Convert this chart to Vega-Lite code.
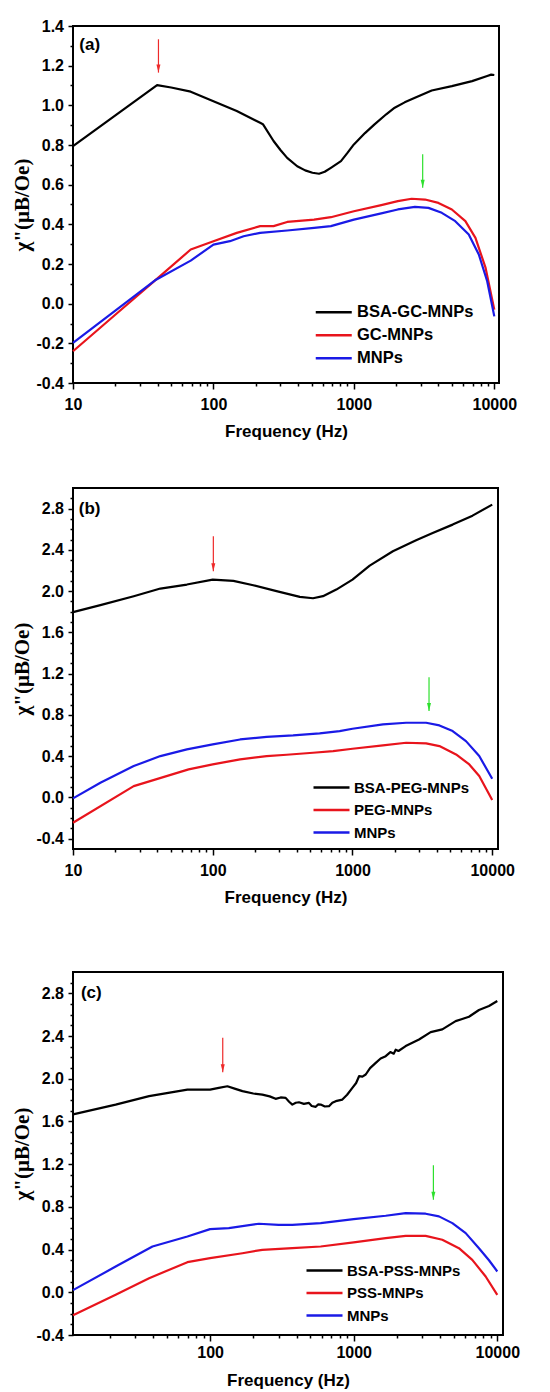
{
  "$schema": "https://vega.github.io/schema/vega-lite/v6.json",
  "background": "white",
  "padding": {"left": 10, "top": 17, "right": 5, "bottom": 2},
  "config": {
    "font": "Liberation Sans",
    "view": {"stroke": "#000000", "strokeWidth": 2},
    "axis": {"domain": false, "grid": false, "tickColor": "#000000", "tickWidth": 1.5, "labelFont": "Liberation Sans", "labelFontSize": 16, "labelFontWeight": "bold", "labelColor": "#000000", "titleFont": "Liberation Sans", "titleFontWeight": "bold", "titleColor": "#000000"},
    "legend": {"labelFont": "Liberation Sans", "labelFontWeight": "bold", "labelColor": "#000000"}
  },
  "datasets": {
    "a": [
      {"s":"BSA-GC-MNPs","f":10,"v":0.794},{"s":"BSA-GC-MNPs","f":39.7,"v":1.102},{"s":"BSA-GC-MNPs","f":50,"v":1.09},{"s":"BSA-GC-MNPs","f":68.9,"v":1.069},{"s":"BSA-GC-MNPs","f":100,"v":1.021},{"s":"BSA-GC-MNPs","f":146.6,"v":0.971},{"s":"BSA-GC-MNPs","f":215,"v":0.912},{"s":"BSA-GC-MNPs","f":225,"v":0.905},{"s":"BSA-GC-MNPs","f":268,"v":0.82},{"s":"BSA-GC-MNPs","f":300,"v":0.775},{"s":"BSA-GC-MNPs","f":335,"v":0.735},{"s":"BSA-GC-MNPs","f":395,"v":0.693},{"s":"BSA-GC-MNPs","f":450,"v":0.672},{"s":"BSA-GC-MNPs","f":507,"v":0.66},{"s":"BSA-GC-MNPs","f":565,"v":0.655},{"s":"BSA-GC-MNPs","f":620,"v":0.665},{"s":"BSA-GC-MNPs","f":686,"v":0.685},{"s":"BSA-GC-MNPs","f":809,"v":0.719},{"s":"BSA-GC-MNPs","f":900,"v":0.76},{"s":"BSA-GC-MNPs","f":1000,"v":0.803},{"s":"BSA-GC-MNPs","f":1200,"v":0.86},{"s":"BSA-GC-MNPs","f":1403,"v":0.904},{"s":"BSA-GC-MNPs","f":1700,"v":0.955},{"s":"BSA-GC-MNPs","f":1953,"v":0.988},{"s":"BSA-GC-MNPs","f":2300,"v":1.015},{"s":"BSA-GC-MNPs","f":2722,"v":1.038},{"s":"BSA-GC-MNPs","f":3583,"v":1.075},{"s":"BSA-GC-MNPs","f":4986,"v":1.097},{"s":"BSA-GC-MNPs","f":6946,"v":1.122},{"s":"BSA-GC-MNPs","f":8900,"v":1.148},{"s":"BSA-GC-MNPs","f":9500,"v":1.155},{"s":"BSA-GC-MNPs","f":10000,"v":1.153},
      {"s":"GC-MNPs","f":10,"v":-0.24},{"s":"GC-MNPs","f":20,"v":-0.056},{"s":"GC-MNPs","f":39,"v":0.121},{"s":"GC-MNPs","f":68.9,"v":0.273},{"s":"GC-MNPs","f":100,"v":0.315},{"s":"GC-MNPs","f":146.6,"v":0.357},{"s":"GC-MNPs","f":215,"v":0.391},{"s":"GC-MNPs","f":268,"v":0.391},{"s":"GC-MNPs","f":335,"v":0.412},{"s":"GC-MNPs","f":521,"v":0.424},{"s":"GC-MNPs","f":686,"v":0.436},{"s":"GC-MNPs","f":1000,"v":0.466},{"s":"GC-MNPs","f":1567,"v":0.497},{"s":"GC-MNPs","f":2055,"v":0.517},{"s":"GC-MNPs","f":2578,"v":0.529},{"s":"GC-MNPs","f":3213,"v":0.525},{"s":"GC-MNPs","f":4000,"v":0.508},{"s":"GC-MNPs","f":4986,"v":0.475},{"s":"GC-MNPs","f":6223,"v":0.416},{"s":"GC-MNPs","f":7341,"v":0.332},{"s":"GC-MNPs","f":8670,"v":0.18},{"s":"GC-MNPs","f":10000,"v":-0.03},
      {"s":"MNPs","f":10,"v":-0.198},{"s":"MNPs","f":39,"v":0.121},{"s":"MNPs","f":68.9,"v":0.217},{"s":"MNPs","f":100,"v":0.298},{"s":"MNPs","f":131,"v":0.315},{"s":"MNPs","f":164,"v":0.34},{"s":"MNPs","f":215,"v":0.357},{"s":"MNPs","f":335,"v":0.369},{"s":"MNPs","f":521,"v":0.382},{"s":"MNPs","f":686,"v":0.391},{"s":"MNPs","f":1000,"v":0.424},{"s":"MNPs","f":1567,"v":0.455},{"s":"MNPs","f":2055,"v":0.475},{"s":"MNPs","f":2722,"v":0.488},{"s":"MNPs","f":3396,"v":0.483},{"s":"MNPs","f":4227,"v":0.458},{"s":"MNPs","f":5272,"v":0.416},{"s":"MNPs","f":6578,"v":0.349},{"s":"MNPs","f":7757,"v":0.248},{"s":"MNPs","f":8900,"v":0.113},{"s":"MNPs","f":10000,"v":-0.064}
    ],
    "b": [
      {"s":"BSA-PEG-MNPs","f":10,"v":1.796},{"s":"BSA-PEG-MNPs","f":15.7,"v":1.864},{"s":"BSA-PEG-MNPs","f":27.2,"v":1.951},{"s":"BSA-PEG-MNPs","f":42.2,"v":2.025},{"s":"BSA-PEG-MNPs","f":65.3,"v":2.064},{"s":"BSA-PEG-MNPs","f":100,"v":2.112},{"s":"BSA-PEG-MNPs","f":140.6,"v":2.099},{"s":"BSA-PEG-MNPs","f":195,"v":2.057},{"s":"BSA-PEG-MNPs","f":286,"v":2.0},{"s":"BSA-PEG-MNPs","f":420,"v":1.944},{"s":"BSA-PEG-MNPs","f":522,"v":1.931},{"s":"BSA-PEG-MNPs","f":615,"v":1.951},{"s":"BSA-PEG-MNPs","f":766,"v":2.015},{"s":"BSA-PEG-MNPs","f":1000,"v":2.112},{"s":"BSA-PEG-MNPs","f":1328,"v":2.248},{"s":"BSA-PEG-MNPs","f":1946,"v":2.387},{"s":"BSA-PEG-MNPs","f":2853,"v":2.493},{"s":"BSA-PEG-MNPs","f":3750,"v":2.564},{"s":"BSA-PEG-MNPs","f":5210,"v":2.645},{"s":"BSA-PEG-MNPs","f":7230,"v":2.732},{"s":"BSA-PEG-MNPs","f":10000,"v":2.839},
      {"s":"PEG-MNPs","f":10,"v":-0.245},{"s":"PEG-MNPs","f":27.2,"v":0.11},{"s":"PEG-MNPs","f":67.2,"v":0.272},{"s":"PEG-MNPs","f":100,"v":0.32},{"s":"PEG-MNPs","f":157,"v":0.369},{"s":"PEG-MNPs","f":243,"v":0.401},{"s":"PEG-MNPs","f":338,"v":0.414},{"s":"PEG-MNPs","f":522,"v":0.433},{"s":"PEG-MNPs","f":727,"v":0.449},{"s":"PEG-MNPs","f":1000,"v":0.472},{"s":"PEG-MNPs","f":1652,"v":0.504},{"s":"PEG-MNPs","f":2421,"v":0.53},{"s":"PEG-MNPs","f":3365,"v":0.524},{"s":"PEG-MNPs","f":4190,"v":0.498},{"s":"PEG-MNPs","f":5510,"v":0.417},{"s":"PEG-MNPs","f":6856,"v":0.32},{"s":"PEG-MNPs","f":8075,"v":0.207},{"s":"PEG-MNPs","f":10000,"v":-0.025},
      {"s":"MNPs","f":10,"v":-0.009},{"s":"MNPs","f":15.7,"v":0.143},{"s":"MNPs","f":27.2,"v":0.304},{"s":"MNPs","f":42.2,"v":0.401},{"s":"MNPs","f":65.3,"v":0.466},{"s":"MNPs","f":100,"v":0.514},{"s":"MNPs","f":157,"v":0.562},{"s":"MNPs","f":243,"v":0.588},{"s":"MNPs","f":376,"v":0.601},{"s":"MNPs","f":582,"v":0.621},{"s":"MNPs","f":809,"v":0.643},{"s":"MNPs","f":1000,"v":0.666},{"s":"MNPs","f":1652,"v":0.708},{"s":"MNPs","f":2421,"v":0.724},{"s":"MNPs","f":3365,"v":0.724},{"s":"MNPs","f":4190,"v":0.698},{"s":"MNPs","f":5210,"v":0.643},{"s":"MNPs","f":6490,"v":0.546},{"s":"MNPs","f":8075,"v":0.401},{"s":"MNPs","f":10000,"v":0.181}
    ],
    "c": [
      {"s":"BSA-PSS-MNPs","f":11.1,"v":1.667},{"s":"BSA-PSS-MNPs","f":22,"v":1.758},{"s":"BSA-PSS-MNPs","f":37.6,"v":1.837},{"s":"BSA-PSS-MNPs","f":69.5,"v":1.899},{"s":"BSA-PSS-MNPs","f":100,"v":1.899},{"s":"BSA-PSS-MNPs","f":115,"v":1.915},{"s":"BSA-PSS-MNPs","f":132,"v":1.93},{"s":"BSA-PSS-MNPs","f":150,"v":1.905},{"s":"BSA-PSS-MNPs","f":168,"v":1.884},{"s":"BSA-PSS-MNPs","f":200,"v":1.862},{"s":"BSA-PSS-MNPs","f":231,"v":1.852},{"s":"BSA-PSS-MNPs","f":260,"v":1.835},{"s":"BSA-PSS-MNPs","f":286,"v":1.812},{"s":"BSA-PSS-MNPs","f":310,"v":1.825},{"s":"BSA-PSS-MNPs","f":336,"v":1.821},{"s":"BSA-PSS-MNPs","f":355,"v":1.785},{"s":"BSA-PSS-MNPs","f":374,"v":1.758},{"s":"BSA-PSS-MNPs","f":395,"v":1.775},{"s":"BSA-PSS-MNPs","f":416,"v":1.78},{"s":"BSA-PSS-MNPs","f":450,"v":1.765},{"s":"BSA-PSS-MNPs","f":488,"v":1.774},{"s":"BSA-PSS-MNPs","f":510,"v":1.745},{"s":"BSA-PSS-MNPs","f":544,"v":1.737},{"s":"BSA-PSS-MNPs","f":565,"v":1.76},{"s":"BSA-PSS-MNPs","f":589,"v":1.758},{"s":"BSA-PSS-MNPs","f":630,"v":1.74},{"s":"BSA-PSS-MNPs","f":673,"v":1.743},{"s":"BSA-PSS-MNPs","f":710,"v":1.775},{"s":"BSA-PSS-MNPs","f":750,"v":1.79},{"s":"BSA-PSS-MNPs","f":834,"v":1.805},{"s":"BSA-PSS-MNPs","f":900,"v":1.85},{"s":"BSA-PSS-MNPs","f":979,"v":1.915},{"s":"BSA-PSS-MNPs","f":1040,"v":1.96},{"s":"BSA-PSS-MNPs","f":1090,"v":2.024},{"s":"BSA-PSS-MNPs","f":1150,"v":2.02},{"s":"BSA-PSS-MNPs","f":1213,"v":2.04},{"s":"BSA-PSS-MNPs","f":1300,"v":2.1},{"s":"BSA-PSS-MNPs","f":1424,"v":2.149},{"s":"BSA-PSS-MNPs","f":1540,"v":2.19},{"s":"BSA-PSS-MNPs","f":1671,"v":2.212},{"s":"BSA-PSS-MNPs","f":1800,"v":2.25},{"s":"BSA-PSS-MNPs","f":1900,"v":2.235},{"s":"BSA-PSS-MNPs","f":1961,"v":2.272},{"s":"BSA-PSS-MNPs","f":2050,"v":2.26},{"s":"BSA-PSS-MNPs","f":2302,"v":2.306},{"s":"BSA-PSS-MNPs","f":2851,"v":2.368},{"s":"BSA-PSS-MNPs","f":3437,"v":2.437},{"s":"BSA-PSS-MNPs","f":4141,"v":2.462},{"s":"BSA-PSS-MNPs","f":5129,"v":2.54},{"s":"BSA-PSS-MNPs","f":5700,"v":2.56},{"s":"BSA-PSS-MNPs","f":6351,"v":2.581},{"s":"BSA-PSS-MNPs","f":7454,"v":2.644},{"s":"BSA-PSS-MNPs","f":8754,"v":2.681},{"s":"BSA-PSS-MNPs","f":10000,"v":2.728},
      {"s":"PSS-MNPs","f":11.1,"v":-0.215},{"s":"PSS-MNPs","f":22,"v":-0.024},{"s":"PSS-MNPs","f":37.6,"v":0.132},{"s":"PSS-MNPs","f":69.5,"v":0.282},{"s":"PSS-MNPs","f":100,"v":0.32},{"s":"PSS-MNPs","f":168,"v":0.366},{"s":"PSS-MNPs","f":231,"v":0.398},{"s":"PSS-MNPs","f":374,"v":0.413},{"s":"PSS-MNPs","f":589,"v":0.429},{"s":"PSS-MNPs","f":1000,"v":0.467},{"s":"PSS-MNPs","f":1671,"v":0.507},{"s":"PSS-MNPs","f":2302,"v":0.529},{"s":"PSS-MNPs","f":3170,"v":0.529},{"s":"PSS-MNPs","f":4141,"v":0.492},{"s":"PSS-MNPs","f":5407,"v":0.413},{"s":"PSS-MNPs","f":6697,"v":0.304},{"s":"PSS-MNPs","f":8300,"v":0.148},{"s":"PSS-MNPs","f":10000,"v":-0.024},
      {"s":"MNPs","f":11.1,"v":0.02},{"s":"MNPs","f":22,"v":0.241},{"s":"MNPs","f":39.7,"v":0.429},{"s":"MNPs","f":69.5,"v":0.523},{"s":"MNPs","f":100,"v":0.592},{"s":"MNPs","f":135,"v":0.601},{"s":"MNPs","f":219,"v":0.642},{"s":"MNPs","f":300,"v":0.632},{"s":"MNPs","f":374,"v":0.632},{"s":"MNPs","f":589,"v":0.648},{"s":"MNPs","f":1000,"v":0.686},{"s":"MNPs","f":1671,"v":0.717},{"s":"MNPs","f":2302,"v":0.742},{"s":"MNPs","f":3170,"v":0.736},{"s":"MNPs","f":3926,"v":0.711},{"s":"MNPs","f":4865,"v":0.648},{"s":"MNPs","f":6026,"v":0.554},{"s":"MNPs","f":7454,"v":0.413},{"s":"MNPs","f":8754,"v":0.3},{"s":"MNPs","f":10000,"v":0.195}
    ],
    "arrows_a": [{"peak":"BSA peak","f":40.6,"top":1.333,"tip":1.165},{"peak":"MNP peak","f":3090,"top":0.753,"tip":0.585}],
    "arrows_b": [{"peak":"BSA peak","f":101,"top":2.532,"tip":2.193},{"peak":"MNP peak","f":3530,"top":1.166,"tip":0.837}],
    "arrows_c": [{"peak":"BSA peak","f":122.5,"top":2.384,"tip":2.062},{"peak":"MNP peak","f":3590,"top":1.189,"tip":0.867}]
  },
  "resolve": {"scale": {"x": "independent", "y": "independent", "color": "independent", "stroke": "independent", "fill": "independent"}, "legend": {"color": "independent"}},
  "spacing": 65,
  "vconcat": [
    {
      "spacing": 47,
      "resolve": {"scale": {"x": "independent", "y": "independent", "color": "independent", "stroke": "independent", "fill": "independent"}, "legend": {"color": "independent"}},
      "vconcat": [
        {
          "width": 426, "height": 357,
          "resolve": {"axis": {"x": "independent", "y": "independent"}},
          "layer": [
            {
              "data": {"name": "a"},
              "mark": {"type": "line", "strokeWidth": 2.2, "strokeJoin": "round"},
              "encoding": {
                "x": {"field": "f", "type": "quantitative", "scale": {"type": "log", "domain": [10, 10800], "nice": false},
                  "axis": {"orient": "bottom", "values": [10, 100, 1000, 10000], "format": "d", "tickSize": 6, "labelPadding": 7, "labelFlush": false, "labelOverlap": false, "title": "Frequency (Hz)", "titleFontSize": 17, "titlePadding": 11}},
                "y": {"field": "v", "type": "quantitative", "scale": {"domain": [-0.4, 1.4], "nice": false, "zero": false},
                  "axis": {"orient": "left", "values": [-0.4, -0.2, 0, 0.2, 0.4, 0.6, 0.8, 1.0, 1.2, 1.4], "format": ".1f", "labelExpr": "replace(datum.label, '\u2212', '-')", "tickSize": 5, "labelPadding": 4.5, "title": "χ\"(μB/Oe)", "titleFont": "Liberation Serif", "titleFontSize": 21, "titlePadding": 3}},
                "color": {"field": "s", "type": "nominal", "scale": {"domain": ["BSA-GC-MNPs", "GC-MNPs", "MNPs"], "range": ["#000000", "#e8141c", "#1a1ae6"]},
                  "legend": {"orient": "none", "legendX": 252.5, "legendY": 278, "direction": "vertical", "title": null, "symbolType": "M-4,0L4,0", "symbolSize": 81, "symbolStrokeWidth": 2.5, "labelFontSize": 16.5, "labelOffset": 15, "rowPadding": 6, "padding": 0}}
              }
            },
            {
              "data": {"name": "arrows_a"},
              "mark": {"type": "rule", "strokeWidth": 1.2},
              "encoding": {
                "x": {"field": "f", "type": "quantitative", "scale": {"type": "log", "domain": [10, 10800], "nice": false},
                  "axis": {"orient": "bottom", "values": [20, 30, 40, 50, 60, 70, 80, 90, 200, 300, 400, 500, 600, 700, 800, 900, 2000, 3000, 4000, 5000, 6000, 7000, 8000, 9000], "labels": false, "title": null, "tickSize": 3}},
                "y": {"field": "top", "type": "quantitative", "scale": {"domain": [-0.4, 1.4], "nice": false, "zero": false},
                  "axis": {"orient": "left", "values": [-0.3, -0.1, 0.1, 0.3, 0.5, 0.7, 0.9, 1.1, 1.3], "labels": false, "title": null, "tickSize": 3}},
                "y2": {"field": "tip"},
                "stroke": {"field": "peak", "type": "nominal", "scale": {"domain": ["BSA peak", "MNP peak"], "range": ["#ee2a2a", "#2ee02e"]}, "legend": null}
              }
            },
            {
              "data": {"name": "arrows_a"},
              "mark": {"type": "point", "filled": true, "opacity": 1, "shape": "M-1,-4L1,-4L0,0Z", "size": 16, "strokeWidth": 0},
              "encoding": {
                "x": {"field": "f", "type": "quantitative", "axis": null},
                "y": {"field": "tip", "type": "quantitative", "axis": null},
                "fill": {"field": "peak", "type": "nominal", "scale": {"domain": ["BSA peak", "MNP peak"], "range": ["#ee2a2a", "#2ee02e"]}, "legend": null}
              }
            },
            {
              "data": {"values": [{"f": 11.1, "v": 1.305, "t": "(a)"}]},
              "mark": {"type": "text", "align": "left", "baseline": "middle", "fontSize": 17, "fontWeight": "bold", "font": "Liberation Sans", "color": "#000000"},
              "encoding": {
                "x": {"field": "f", "type": "quantitative", "axis": null},
                "y": {"field": "v", "type": "quantitative", "axis": null},
                "text": {"field": "t"}
              }
            }
          ]
        },
        {
          "width": 425, "height": 361,
          "resolve": {"axis": {"x": "independent", "y": "independent"}},
          "layer": [
            {
              "data": {"name": "b"},
              "mark": {"type": "line", "strokeWidth": 2.2, "strokeJoin": "round"},
              "encoding": {
                "x": {"field": "f", "type": "quantitative", "scale": {"type": "log", "domain": [10, 11000], "nice": false},
                  "axis": {"orient": "bottom", "values": [10, 100, 1000, 10000], "format": "d", "tickSize": 6, "labelPadding": 7, "labelFlush": false, "labelOverlap": false, "title": "Frequency (Hz)", "titleFontSize": 17, "titlePadding": 11}},
                "y": {"field": "v", "type": "quantitative", "scale": {"domain": [-0.5, 3.0], "nice": false, "zero": false},
                  "axis": {"orient": "left", "values": [-0.4, 0, 0.4, 0.8, 1.2, 1.6, 2.0, 2.4, 2.8], "format": ".1f", "labelExpr": "replace(datum.label, '\u2212', '-')", "tickSize": 5, "labelPadding": 4.5, "title": "χ\"(μB/Oe)", "titleFont": "Liberation Serif", "titleFontSize": 21, "titlePadding": 3}},
                "color": {"field": "s", "type": "nominal", "scale": {"domain": ["BSA-PEG-MNPs", "PEG-MNPs", "MNPs"], "range": ["#000000", "#e8141c", "#1a1ae6"]},
                  "legend": {"orient": "none", "legendX": 251, "legendY": 292, "direction": "vertical", "title": null, "symbolType": "M-4,0L4,0", "symbolSize": 81, "symbolStrokeWidth": 2.5, "labelFontSize": 15, "labelOffset": 15, "rowPadding": 6.5, "padding": 0}}
              }
            },
            {
              "data": {"name": "arrows_b"},
              "mark": {"type": "rule", "strokeWidth": 1.2},
              "encoding": {
                "x": {"field": "f", "type": "quantitative", "scale": {"type": "log", "domain": [10, 11000], "nice": false},
                  "axis": {"orient": "bottom", "values": [20, 30, 40, 50, 60, 70, 80, 90, 200, 300, 400, 500, 600, 700, 800, 900, 2000, 3000, 4000, 5000, 6000, 7000, 8000, 9000], "labels": false, "title": null, "tickSize": 3}},
                "y": {"field": "top", "type": "quantitative", "scale": {"domain": [-0.5, 3.0], "nice": false, "zero": false},
                  "axis": {"orient": "left", "values": [-0.3, -0.2, -0.1, 0.1, 0.2, 0.3, 0.5, 0.6, 0.7, 0.9, 1.0, 1.1, 1.3, 1.4, 1.5, 1.7, 1.8, 1.9, 2.1, 2.2, 2.3, 2.5, 2.6, 2.7, 2.9], "labels": false, "title": null, "tickSize": 3}},
                "y2": {"field": "tip"},
                "stroke": {"field": "peak", "type": "nominal", "scale": {"domain": ["BSA peak", "MNP peak"], "range": ["#ee2a2a", "#2ee02e"]}, "legend": null}
              }
            },
            {
              "data": {"name": "arrows_b"},
              "mark": {"type": "point", "filled": true, "opacity": 1, "shape": "M-1,-4L1,-4L0,0Z", "size": 16, "strokeWidth": 0},
              "encoding": {
                "x": {"field": "f", "type": "quantitative", "axis": null},
                "y": {"field": "tip", "type": "quantitative", "axis": null},
                "fill": {"field": "peak", "type": "nominal", "scale": {"domain": ["BSA peak", "MNP peak"], "range": ["#ee2a2a", "#2ee02e"]}, "legend": null}
              }
            },
            {
              "data": {"values": [{"f": 11.0, "v": 2.8, "t": "(b)"}]},
              "mark": {"type": "text", "align": "left", "baseline": "middle", "fontSize": 17, "fontWeight": "bold", "font": "Liberation Sans", "color": "#000000"},
              "encoding": {
                "x": {"field": "f", "type": "quantitative", "axis": null},
                "y": {"field": "v", "type": "quantitative", "axis": null},
                "text": {"field": "t"}
              }
            }
          ]
        }
      ]
    },
    {
      "width": 430, "height": 363,
      "resolve": {"axis": {"x": "independent", "y": "independent"}},
      "layer": [
        {
          "data": {"name": "c"},
          "mark": {"type": "line", "strokeWidth": 2.2, "strokeJoin": "round"},
          "encoding": {
            "x": {"field": "f", "type": "quantitative", "scale": {"type": "log", "domain": [11.1, 10960], "nice": false},
              "axis": {"orient": "bottom", "values": [100, 1000, 10000], "format": "d", "tickSize": 6, "labelPadding": 3.5, "labelFlush": false, "labelOverlap": false, "title": "Frequency (Hz)", "titleFontSize": 17, "titlePadding": 12}},
            "y": {"field": "v", "type": "quantitative", "scale": {"domain": [-0.4, 3.0], "nice": false, "zero": false},
              "axis": {"orient": "left", "values": [-0.4, 0, 0.4, 0.8, 1.2, 1.6, 2.0, 2.4, 2.8], "format": ".1f", "labelExpr": "replace(datum.label, '\u2212', '-')", "tickSize": 5, "labelPadding": 4.5, "title": "χ\"(μB/Oe)", "titleFont": "Liberation Serif", "titleFontSize": 21, "titlePadding": 3}},
            "color": {"field": "s", "type": "nominal", "scale": {"domain": ["BSA-PSS-MNPs", "PSS-MNPs", "MNPs"], "range": ["#000000", "#e8141c", "#1a1ae6"]},
              "legend": {"orient": "none", "legendX": 244, "legendY": 291, "direction": "vertical", "title": null, "symbolType": "M-4,0L4,0", "symbolSize": 81, "symbolStrokeWidth": 2.5, "labelFontSize": 15, "labelOffset": 15, "rowPadding": 6.5, "padding": 0}}
          }
        },
        {
          "data": {"name": "arrows_c"},
          "mark": {"type": "rule", "strokeWidth": 1.2},
          "encoding": {
            "x": {"field": "f", "type": "quantitative", "scale": {"type": "log", "domain": [11.1, 10960], "nice": false},
              "axis": {"orient": "bottom", "values": [20, 30, 40, 50, 60, 70, 80, 90, 200, 300, 400, 500, 600, 700, 800, 900, 2000, 3000, 4000, 5000, 6000, 7000, 8000, 9000], "labels": false, "title": null, "tickSize": 3}},
            "y": {"field": "top", "type": "quantitative", "scale": {"domain": [-0.4, 3.0], "nice": false, "zero": false},
              "axis": {"orient": "left", "values": [-0.3, -0.2, -0.1, 0.1, 0.2, 0.3, 0.5, 0.6, 0.7, 0.9, 1.0, 1.1, 1.3, 1.4, 1.5, 1.7, 1.8, 1.9, 2.1, 2.2, 2.3, 2.5, 2.6, 2.7, 2.9], "labels": false, "title": null, "tickSize": 3}},
            "y2": {"field": "tip"},
            "stroke": {"field": "peak", "type": "nominal", "scale": {"domain": ["BSA peak", "MNP peak"], "range": ["#ee2a2a", "#2ee02e"]}, "legend": null}
          }
        },
        {
          "data": {"name": "arrows_c"},
          "mark": {"type": "point", "filled": true, "opacity": 1, "shape": "M-1,-4L1,-4L0,0Z", "size": 16, "strokeWidth": 0},
          "encoding": {
            "x": {"field": "f", "type": "quantitative", "axis": null},
            "y": {"field": "tip", "type": "quantitative", "axis": null},
            "fill": {"field": "peak", "type": "nominal", "scale": {"domain": ["BSA peak", "MNP peak"], "range": ["#ee2a2a", "#2ee02e"]}, "legend": null}
          }
        },
        {
          "data": {"values": [{"f": 12.6, "v": 2.8, "t": "(c)"}]},
          "mark": {"type": "text", "align": "left", "baseline": "middle", "fontSize": 17, "fontWeight": "bold", "font": "Liberation Sans", "color": "#000000"},
          "encoding": {
            "x": {"field": "f", "type": "quantitative", "axis": null},
            "y": {"field": "v", "type": "quantitative", "axis": null},
            "text": {"field": "t"}
          }
        }
      ]
    }
  ]
}
